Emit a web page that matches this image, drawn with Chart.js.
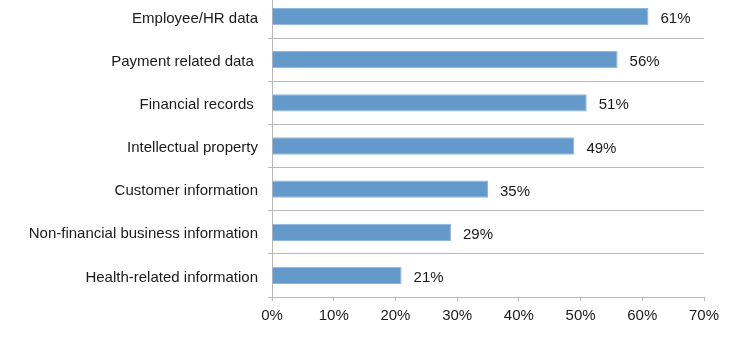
<!DOCTYPE html>
<html>
<head>
<meta charset="utf-8">
<script src="https://cdn.jsdelivr.net/npm/chart.js@4/dist/chart.umd.min.js"></script>
<style>
  html, body { margin: 0; padding: 0; background: #fff; overflow: hidden; }
  #wrap { position: absolute; left: 0; top: -24px; width: 754px; height: 369px; }
</style>
</head>
<body>
<div id="wrap"><canvas id="myChart"></canvas></div>
<script>
// categories and shares (percent of respondents)
var categories = [
    'Employee/HR data',
    'Payment related data ',
    'Financial records ',
    'Intellectual property',
    'Customer information',
    'Non-financial business information',
    'Health-related information'
];
var shares = [61, 56, 51, 49, 35, 29, 21];
var xTicks = [0, 10, 20, 30, 40, 50, 60, 70];

var gridColor = '#b9b9b9';
var textColor = '#1a1a1a';
var fontFamily = '"Liberation Sans", Arial, Helvetica, sans-serif';

// writes "61%" etc just past the end of each bar
var valueLabels = {
    id: 'valueLabels',
    afterDatasetsDraw: function (chart) {
        var ctx = chart.ctx;
        var meta = chart.getDatasetMeta(0);
        ctx.save();
        ctx.font = '15px ' + fontFamily;
        ctx.fillStyle = textColor;
        ctx.textAlign = 'left';
        ctx.textBaseline = 'middle';
        meta.data.forEach(function (bar, i) {
            ctx.fillText(shares[i] + '%', bar.x + 12, bar.y + 2.5);
        });
        ctx.restore();
    }
};

var myChart = document.getElementById('myChart');
if (myChart !== null) {
    var ctx = myChart.getContext('2d');
    var chart = new Chart(ctx, {
        type: 'bar',
        data: {
            labels: categories,
            datasets: [{
                data: shares,
                backgroundColor: '#6399cb',
                borderColor: '#8fb6dc',
                borderWidth: 1,
                borderSkipped: 'start',
                categoryPercentage: 1,
                barPercentage: 0.4
            }]
        },
        options: {
            indexAxis: 'y',
            responsive: true,
            maintainAspectRatio: false,
            animation: false,
            layout: {
                padding: { left: 0, right: 50, top: 0, bottom: 0 }
            },
            plugins: {
                legend: { display: false },
                tooltip: { enabled: false }
            },
            scales: {
                x: {
                    min: 0,
                    max: 70,
                    afterBuildTicks: function (scale) {
                        scale.ticks = xTicks.map(function (v) { return { value: v }; });
                    },
                    afterFit: function (scale) {
                        scale.height = 48;
                    },
                    grid: {
                        drawOnChartArea: false,
                        drawTicks: true,
                        tickLength: 4,
                        color: gridColor
                    },
                    border: { display: true, color: gridColor, width: 1 },
                    ticks: {
                        padding: 6,
                        color: textColor,
                        font: { family: fontFamily, size: 15 },
                        maxRotation: 0,
                        callback: function (v) { return v + '%'; }
                    }
                },
                y: {
                    afterFit: function (scale) {
                        scale.width = 272;
                    },
                    grid: {
                        offset: true,
                        drawTicks: true,
                        tickLength: 4,
                        color: gridColor
                    },
                    border: { display: true, color: gridColor, width: 1 },
                    ticks: {
                        padding: 10,
                        labelOffset: 2,
                        color: textColor,
                        font: { family: fontFamily, size: 15 }
                    }
                }
            }
        },
        plugins: [valueLabels]
    });
}
</script>
</body>
</html>
